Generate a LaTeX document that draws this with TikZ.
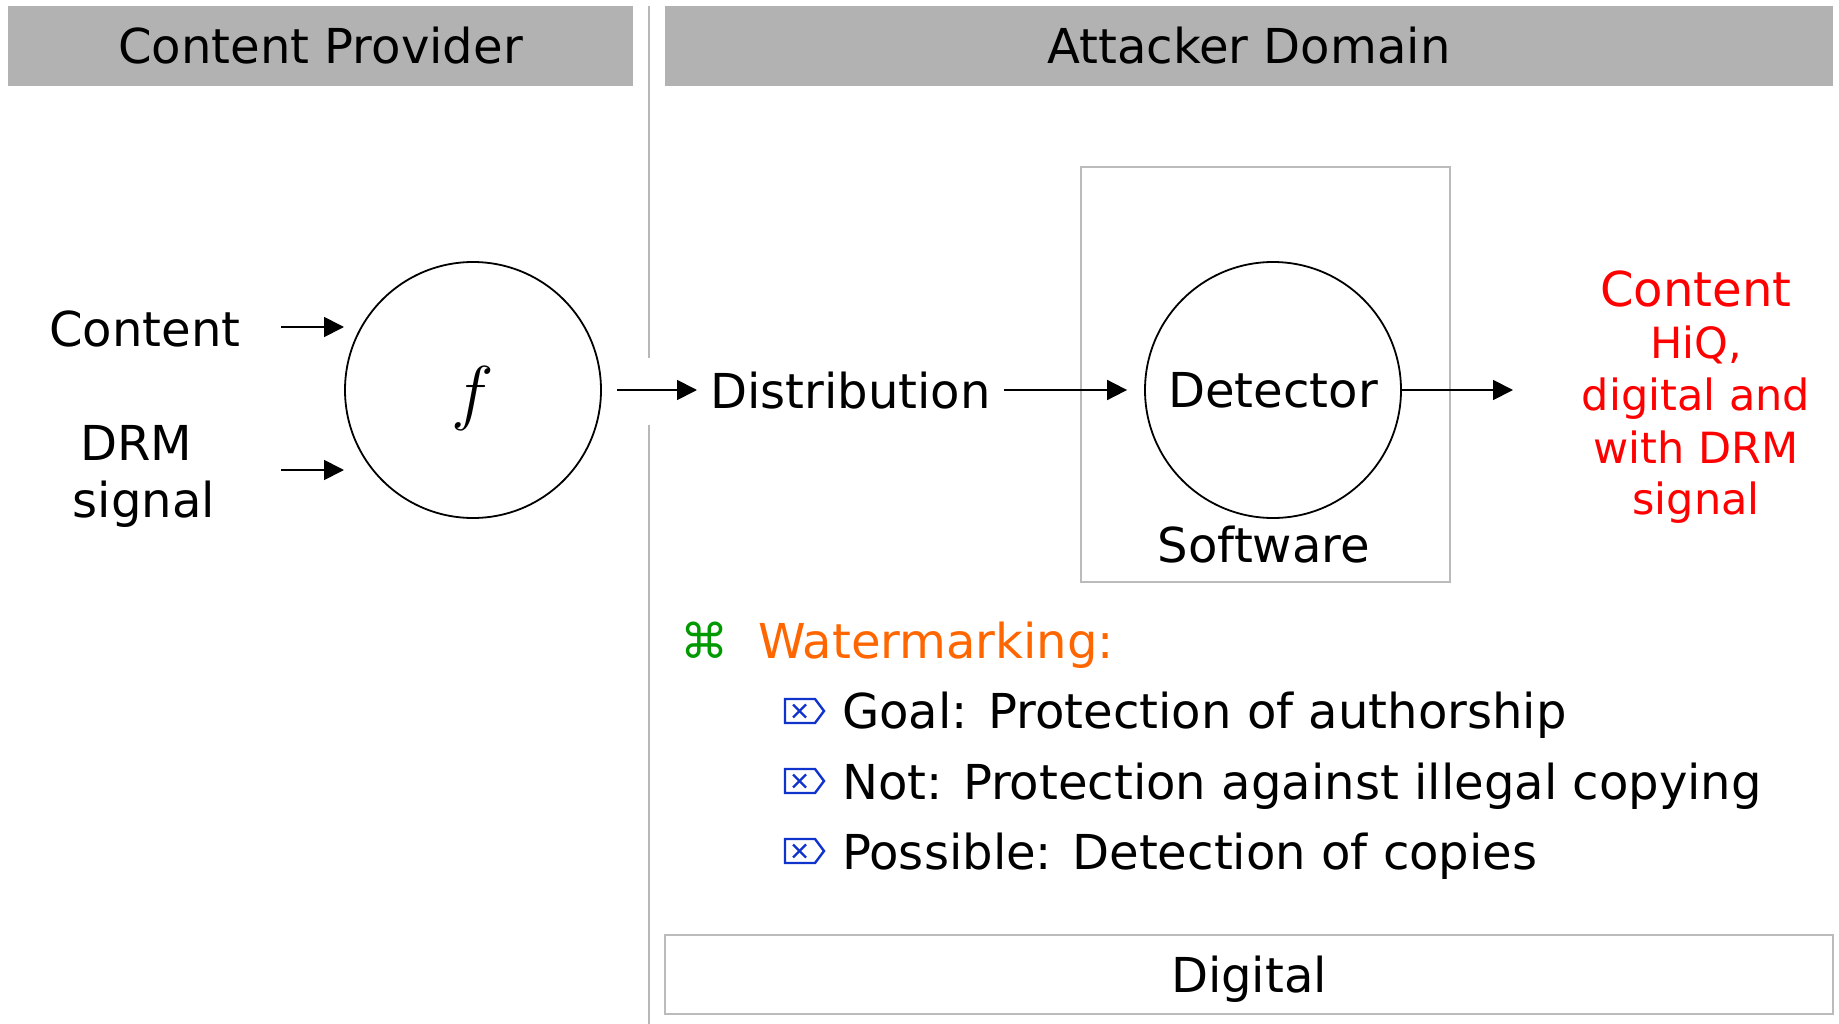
\RequirePackage{fix-cm}
\documentclass[tikz,border=0pt]{standalone}
\usepackage{fontspec}
\setmainfont{DejaVu Sans}
\usetikzlibrary{arrows.meta}
\definecolor{hdrgray}{HTML}{B2B2B2}
\definecolor{linegray}{HTML}{B8B8B8}
\definecolor{boxgray}{HTML}{BBBBBB}
\definecolor{redtxt}{HTML}{FF0000}
\definecolor{orangetxt}{HTML}{FF6600}
\definecolor{greentxt}{HTML}{009900}
\definecolor{bluebul}{HTML}{1033CC}
\begin{document}
\begin{tikzpicture}[x=1pt,y=-1pt,
  big/.style={font=\fontsize{48.1}{58}\selectfont, inner sep=0pt},
  small/.style={font=\fontsize{43}{52}\selectfont, inner sep=0pt},
  capc/.style={text height=35.1pt, text depth=0pt},
  hdrbox/.style={fill=hdrgray, draw=none, big, capc, minimum height=80pt},
  circ/.style={circle, draw=black, line width=1.8pt, minimum size=256pt, inner sep=0pt},
  arr/.style={line width=1.8pt, -{Triangle[length=20pt,width=20pt]}},
  grayframe/.style={draw=boxgray, line width=2pt},
  bul/.style={draw=bluebul, line width=2.4pt, line join=miter}
]
\useasboundingbox (0,0) rectangle (1839,1024);

% headers
\node[hdrbox, minimum width=625pt] (hl) at (320.5,46) {Content Provider};
\node[hdrbox, minimum width=1168pt] (hr) at (1249,46) {Attacker Domain};

% divider
\draw[linegray, line width=2pt] (649,6) -- (649,358);
\draw[linegray, line width=2pt] (649,425) -- (649,1024);

% left inputs
\node[big, anchor=base] (content) at (145,346) {Content};
\node[big, anchor=base] (drm) at (136,460) {DRM};
\node[big, anchor=base] (signal) at (144,517) {signal};
\coordinate (ca1) at (281,327);
\coordinate (ca2) at (344,327);
\coordinate (da1) at (281,470);
\coordinate (da2) at (344,470);
\draw[arr] (ca1) -- (ca2);
\draw[arr] (da1) -- (da2);

% f circle
\node[circ, font=\fontsize{72}{72}\selectfont] (f) at (473,390) {\raisebox{-26pt}[0pt][0pt]{$f$}};

% distribution
\node[big, anchor=base west] (dist) at (710,408) {Distribution};
\draw[arr] ([xshift=15pt]f.east) -- ([xshift=-13pt]f.east -| dist.west);

% software box and detector
\node[grayframe, minimum width=369pt, minimum height=415pt, inner sep=0pt] (sw) at (1265.5,374.5) {};
\node[circ, big, capc] (det) at (1273,390) {Detector};
\node[big, anchor=base] (swlbl) at (1264,562) {Software};
\draw[arr] ([xshift=13pt]dist.east |- det.west) -- ([xshift=-17pt]det.west);

% output
\coordinate (outend) at (1513,390);
\draw[arr] (det.east) -- (outend);
\node[big, anchor=base, text=redtxt] (r1) at (1696,307) {Content};
\node[small, anchor=base, text=redtxt] (r2) at (1696,358) {HiQ,};
\node[small, anchor=base, text=redtxt] (r3) at (1696,410) {digital and};
\node[small, anchor=base, text=redtxt] (r4) at (1696,463) {with DRM};
\node[small, anchor=base, text=redtxt] (r5) at (1696,514) {signal};

% watermarking list
\node[big, text=greentxt] (cmd) at (705,640) {⌘};
\node[big, anchor=base west, text=orangetxt] (wm) at (758,658) {Watermarking:};
\node[big, anchor=base west] (b1) at (842,728) {Goal: Protection of authorship};
\node[big, anchor=base west] (b2) at (842,799) {Not: Protection against illegal copying};
\node[big, anchor=base west] (b3) at (842,869) {Possible: Detection of copies};
\foreach \yy in {711,781,851} {
  \draw[bul] (785,\yy-12) -- (815,\yy-12) -- (824,\yy) -- (815,\yy+12) -- (785,\yy+12) -- cycle;
  \draw[bul, line width=2.2pt] (793,\yy-6.5) -- (806,\yy+6.5);
  \draw[bul, line width=2.2pt] (793,\yy+6.5) -- (806,\yy-6.5);
}

% digital box
\node[grayframe, big, capc, minimum width=1168pt, minimum height=79pt] (dig) at (1249,974.5) {Digital};
\end{tikzpicture}
\end{document}
